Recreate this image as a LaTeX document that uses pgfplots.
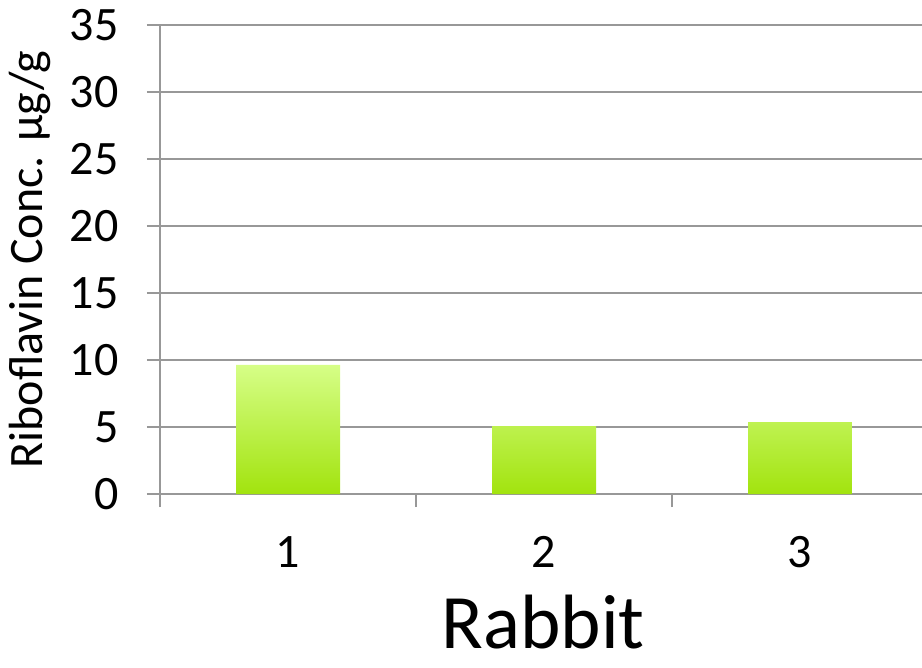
\documentclass[border=0pt]{standalone}
\usepackage{pgfplots}
\pgfplotsset{compat=1.18}
\usepackage{fontspec}
\setmainfont{Carlito}
\definecolor{gridgray}{HTML}{989898}
\definecolor{bartop}{HTML}{D6FE87}
\definecolor{barbot}{HTML}{A2E30E}
\begin{document}
\begin{tikzpicture}
\begin{axis}[
  name=ax,
  scale only axis,
  width=768pt, height=469pt,
  xmin=0.5, xmax=3.5,
  ymin=0, ymax=35,
  ytick={0,5,...,35},
  xtick={0.5,1.5,2.5,3.5},
  xticklabels={},
  extra x ticks={1,2,3},
  extra x tick labels={1,2,3},
  extra x tick style={major tick length=0pt, tick style={draw=none}},
  axis x line*=bottom,
  axis y line*=left,
  axis line style={gridgray, line width=1.8pt},
  tick style={gridgray, line width=1.8pt},
  major tick length=13pt,
  tick align=outside,
  ymajorgrids,
  major grid style={gridgray, line width=1.8pt},
  /pgf/number format/assume math mode=true,
  tick label style={font=\fontsize{48}{58}\selectfont},
  xticklabel style={yshift=-39pt},
  yticklabel style={xshift=-25pt},
  ylabel={Riboflavin Conc. µg/g},
  ylabel style={font=\fontsize{48}{58}\selectfont, at={(axis description cs:-0.169,0.5)}, anchor=center},
  xlabel={Rabbit},
  xlabel style={font=\fontsize{77}{90}\selectfont, inner sep=0pt, at={(axis description cs:0.499,-0.330)}, anchor=base},
  clip=false,
]
\addplot[ybar, bar width=104pt, draw=none, top color=bartop, bottom color=barbot]
  coordinates {(1,9.63) (2,5.07) (3,5.37)};
\end{axis}
\pgfresetboundingbox
\path ([shift={(-160pt,-173pt)}]ax.south west) rectangle ([shift={(-6pt,25pt)}]ax.north east);
\end{tikzpicture}
\end{document}
